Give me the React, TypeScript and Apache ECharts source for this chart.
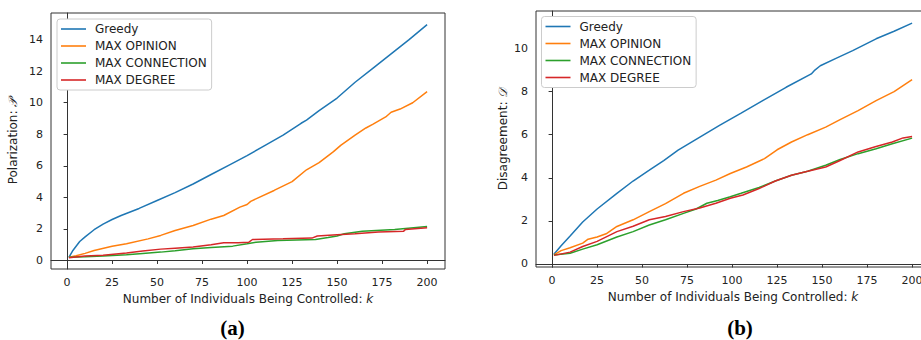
import React, { useEffect, useRef } from "react";
import * as echarts from "echarts";

// ---- data ----
const SERIES_NAMES = ["Greedy", "MAX OPINION", "MAX CONNECTION", "MAX DEGREE"];
const COLORS = ["#1f77b4", "#ff7f0e", "#2ca02c", "#d62728"];

const X_TICKS = [0, 25, 50, 75, 100, 125, 150, 175, 200];
const Y_TICKS_A = [0, 2, 4, 6, 8, 10, 12, 14];
const Y_TICKS_B = [0, 2, 4, 6, 8, 10];

// (a) Polarization
const greedyA: [number, number][] = [
  [1, 0.2], [3, 0.6], [5, 0.9], [7, 1.2], [10, 1.5], [15, 1.95], [20, 2.3], [25, 2.6], [30, 2.85],
  [40, 3.3], [50, 3.8], [60, 4.3], [70, 4.85], [80, 5.45], [90, 6.05], [100, 6.65], [110, 7.3],
  [120, 7.95], [130, 8.7], [133, 8.9], [140, 9.5], [150, 10.3], [160, 11.3], [170, 12.2], [180, 13.1],
  [190, 14.0], [200, 14.95],
];
const opinionA: [number, number][] = [
  [1, 0.2], [5, 0.3], [10, 0.45], [15, 0.63], [25, 0.9], [33, 1.06], [45, 1.37], [52, 1.59],
  [60, 1.9], [70, 2.22], [80, 2.62], [87, 2.85], [96, 3.38], [100, 3.55], [102, 3.75], [115, 4.44],
  [125, 5.0], [133, 5.75], [140, 6.2], [148, 6.9], [152, 7.3], [160, 7.95], [166, 8.4], [170, 8.65],
  [177, 9.1], [180, 9.4], [185, 9.6], [192, 10.0], [200, 10.7],
];
const connectionA: [number, number][] = [
  [1, 0.2], [10, 0.23], [20, 0.28], [33, 0.36], [42, 0.45], [52, 0.53], [60, 0.62], [70, 0.74],
  [80, 0.82], [92, 0.91], [100, 1.06], [105, 1.16], [117, 1.27], [138, 1.33], [145, 1.45],
  [150, 1.55], [154, 1.69], [164, 1.86], [182, 1.97], [200, 2.15],
];
const degreeA: [number, number][] = [
  [1, 0.18], [10, 0.28], [20, 0.33], [33, 0.48], [42, 0.6], [52, 0.72], [60, 0.78], [70, 0.85],
  [80, 1.0], [87, 1.12], [95, 1.13], [101, 1.16], [103, 1.33], [120, 1.37], [136, 1.42], [139, 1.55],
  [150, 1.63], [160, 1.7], [173, 1.8], [187, 1.86], [188, 1.97], [200, 2.07],
];

// (b) Disagreement
const greedyB: [number, number][] = [
  [1, 0.45], [5, 0.85], [10, 1.3], [17, 1.95], [25, 2.55], [36, 3.28], [45, 3.85], [54, 4.35],
  [62, 4.8], [70, 5.28], [80, 5.78], [93, 6.43], [105, 7.0], [117, 7.58], [130, 8.2], [144, 8.82],
  [146, 9.0], [149, 9.2], [158, 9.55], [167, 9.9], [180, 10.45], [190, 10.8], [200, 11.18],
];
const opinionB: [number, number][] = [
  [1, 0.42], [5, 0.62], [10, 0.75], [17, 0.97], [20, 1.15], [25, 1.25], [30, 1.4], [36, 1.74],
  [45, 2.05], [54, 2.43], [63, 2.8], [73, 3.28], [82, 3.6], [91, 3.89], [99, 4.2], [108, 4.5],
  [118, 4.89], [125, 5.3], [133, 5.66], [142, 6.0], [152, 6.35], [160, 6.7], [170, 7.12],
  [180, 7.58], [190, 8.0], [200, 8.55],
];
const connectionB: [number, number][] = [
  [1, 0.42], [10, 0.5], [17, 0.69], [25, 0.89], [36, 1.25], [45, 1.5], [54, 1.81], [63, 2.05],
  [73, 2.35], [80, 2.55], [86, 2.82], [92, 2.95], [99, 3.12], [105, 3.28], [115, 3.55], [124, 3.85],
  [133, 4.12], [142, 4.3], [152, 4.58], [160, 4.85], [170, 5.12], [180, 5.35], [189, 5.58], [200, 5.84],
];
const degreeB: [number, number][] = [
  [1, 0.4], [10, 0.55], [17, 0.81], [25, 1.05], [36, 1.5], [45, 1.75], [54, 2.05], [63, 2.2],
  [73, 2.43], [82, 2.6], [91, 2.82], [99, 3.05], [106, 3.2], [115, 3.5], [124, 3.85], [133, 4.12],
  [142, 4.3], [152, 4.5], [160, 4.8], [170, 5.2], [180, 5.45], [189, 5.66], [195, 5.85], [200, 5.92],
];

const SERIES_A = [greedyA, opinionA, connectionA, degreeA];
const SERIES_B = [greedyB, opinionB, connectionB, degreeB];

const FONT = "DejaVu Sans";
const AXIS_COLOR = "#333";

function xAxisCfg(gridIndex: number) {
  return {
    type: "value",
    gridIndex,
    min: -8.95,
    max: 209.95,
    name: "Number of Individuals Being Controlled: {i|k}",
    nameLocation: "middle",
    nameGap: 24,
    nameTextStyle: {
      fontFamily: FONT,
      fontSize: 12,
      color: "#222",
      rich: { i: { fontFamily: FONT, fontStyle: "italic", fontSize: 12, color: "#222" } },
    },
    axisLine: { show: true, lineStyle: { color: AXIS_COLOR, width: 1 } },
    axisTick: { show: true, inside: false, length: 3.5, lineStyle: { color: AXIS_COLOR }, customValues: X_TICKS },
    axisLabel: { fontFamily: FONT, fontSize: 11, color: "#222", margin: 8, customValues: X_TICKS },
    splitLine: { show: false },
  };
}

function yAxisCfg(gridIndex: number, min: number, max: number, ticks: number[], name: string, gap: number) {
  return {
    type: "value",
    gridIndex,
    min,
    max,
    name,
    nameLocation: "middle",
    nameGap: gap,
    nameTextStyle: {
      fontFamily: FONT,
      fontSize: 12,
      color: "#222",
      rich: { s: { fontFamily: "DejaVu Sans", fontStyle: "italic", fontSize: 12, color: "#222" } },
    },
    axisLine: { show: true, lineStyle: { color: AXIS_COLOR, width: 1 } },
    axisTick: { show: true, inside: false, length: 3.5, lineStyle: { color: AXIS_COLOR }, customValues: ticks },
    axisLabel: { fontFamily: FONT, fontSize: 11, color: "#222", margin: 8, customValues: ticks },
    splitLine: { show: false },
  };
}

function legendCfg(left: number, top: number) {
  return {
    orient: "vertical",
    left,
    top,
    data: SERIES_NAMES,
    icon: "rect",
    itemWidth: 25,
    itemHeight: 1.6,
    itemGap: 3,
    padding: [3, 5, 3, 4],
    backgroundColor: "#fff",
    borderColor: "#cccccc",
    borderWidth: 1,
    borderRadius: 3,
    selectedMode: false,
    itemStyle: { borderWidth: 0 },
    textStyle: { fontFamily: FONT, fontSize: 12, color: "#222", lineHeight: 14, padding: [0, 0, 0, 4] },
  };
}

export default function App() {
  const ref = useRef<HTMLDivElement>(null);

  useEffect(() => {
    if (!ref.current) return;
    const chart = echarts.init(ref.current, null, { renderer: "svg" });

    const series: any[] = [];
    SERIES_NAMES.forEach((name, i) => {
      series.push({
        name,
        type: "line",
        xAxisIndex: 0,
        yAxisIndex: 0,
        data: SERIES_A[i],
        showSymbol: false,
        symbol: "none",
        lineStyle: { color: COLORS[i], width: 1.5 },
        itemStyle: { color: COLORS[i] },
      });
    });
    SERIES_NAMES.forEach((name, i) => {
      series.push({
        name,
        type: "line",
        xAxisIndex: 1,
        yAxisIndex: 1,
        data: SERIES_B[i],
        showSymbol: false,
        symbol: "none",
        lineStyle: { color: COLORS[i], width: 1.5 },
        itemStyle: { color: COLORS[i] },
      });
    });

    chart.setOption({
      animation: false,
      backgroundColor: "#fff",
      grid: [
        { left: 51, top: 13, width: 394, height: 256, show: true, borderColor: AXIS_COLOR, borderWidth: 1, backgroundColor: "transparent" },
        { left: 536, top: 11, width: 394, height: 256, show: true, borderColor: AXIS_COLOR, borderWidth: 1, backgroundColor: "transparent" },
      ],
      xAxis: [xAxisCfg(0), xAxisCfg(1)],
      yAxis: [
        yAxisCfg(0, -0.54, 15.69, Y_TICKS_A, "Polarization: {s|𝒫}", 32),
        yAxisCfg(1, -0.14, 11.74, Y_TICKS_B, "Disagreement: {s|𝒟}", 27),
      ],
      legend: [legendCfg(57, 19), legendCfg(541.5, 16.5)],
      series,
      graphic: [
        {
          type: "text",
          x: 232.5,
          y: 328,
          style: {
            text: "(a)",
            font: 'bold 21px "Liberation Serif"',
            fill: "#000",
            textAlign: "center",
            textVerticalAlign: "middle",
            align: "center",
            verticalAlign: "middle",
          },
        },
        {
          type: "text",
          x: 740,
          y: 328,
          style: {
            text: "(b)",
            font: 'bold 21px "Liberation Serif"',
            fill: "#000",
            textAlign: "center",
            textVerticalAlign: "middle",
            align: "center",
            verticalAlign: "middle",
          },
        },
      ],
    });

    return () => chart.dispose();
  }, []);

  return (
    <div style={{ position: "absolute", left: 0, top: 0, width: 921, height: 340, overflow: "hidden", background: "#fff" }}>
      <div ref={ref} style={{ width: 940, height: 340 }} />
    </div>
  );
}
